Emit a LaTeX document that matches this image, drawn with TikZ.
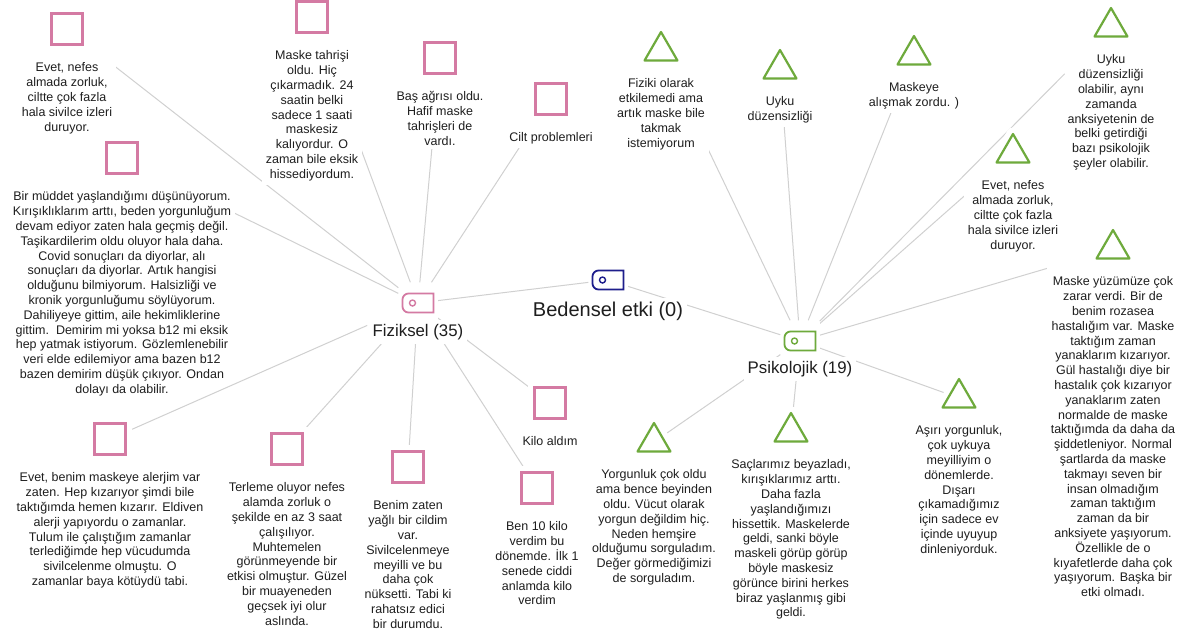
\documentclass[tikz,border=0pt]{standalone}
\usepackage{fontspec}
\setmainfont{Liberation Sans}
\usepackage{xcolor}
\usepackage{tikz}
\usetikzlibrary{positioning,shapes.geometric}
\pgfdeclarelayer{wires}
\pgfdeclarelayer{icons}
\pgfsetlayers{wires,main,icons}
\definecolor{rose}{HTML}{D47AA3}
\definecolor{leaf}{HTML}{6EAA3C}
\definecolor{navy}{HTML}{1E1E8C}
\definecolor{wire}{HTML}{D0D0D0}
\definecolor{ink}{HTML}{1E1E1E}
\newcommand{\notefont}{\fontsize{12.5pt}{14.8pt}\selectfont}
\newcommand{\hubfont}{\fontsize{16.8pt}{20pt}\selectfont}
\newcommand{\topgap}{\rule{0pt}{34pt}}
\newcommand{\tagicon}[2]{%
  \draw[#2,line width=1.8pt] (#1.center) ++(0,9.5) [rounded corners=6pt] -- ++(-15.5,0) -- ++(0,-19) -- ++(15.5,0) [sharp corners] -- ++(15.5,0) -- ++(0,19) -- cycle;
  \draw[#2,line width=1.4pt] (#1.center) ++(-5.5,0) circle (3pt);}

\begin{document}
\begin{tikzpicture}[x=1pt,y=-1pt,
  node distance=-12pt,
  square/.style={draw=rose,line width=2.2pt,minimum size=31pt,inner sep=0pt,fill=white,preaction={draw=white,line width=13pt}},
  tri/.style={regular polygon,regular polygon sides=3,draw=leaf,line width=2.2pt,line join=round,minimum size=38pt,inner sep=0pt,fill=white,preaction={draw=white,line width=13pt,line join=round}},
  note/.style={align=center,fill=white,inner sep=4pt,text=ink,font=\notefont},
  tagbox/.style={minimum width=39pt,minimum height=41pt,inner sep=0pt,fill=white},
  hublabel/.style={fill=white,inner sep=4pt,text=ink,font=\hubfont},
  conn/.style={draw=wire,line width=1pt}
]
\useasboundingbox (0,0) rectangle (1189,633);

% hubs
\node[tagbox] (bed) at (608,280) {};
\tagicon{bed}{navy}
\node[hublabel,font=\fontsize{20pt}{24pt}\selectfont,below=-3pt of bed] (bed-t) {Bedensel etki (0)};
\node[tagbox] (fiz) at (418,303) {};
\tagicon{fiz}{rose}
\node[hublabel,below=-4pt of fiz] (fiz-t) {Fiziksel (35)};
\node[tagbox] (psi) at (800,341) {};
\tagicon{psi}{leaf}
\node[hublabel,below=-5pt of psi] (psi-t) {Psikolojik (19)};

% icons
\begin{pgfonlayer}{icons}
\node[square] (nefes) at (67,29) {};
\node[square] (tahris) at (312,17) {};
\node[square] (basagri) at (440,58) {};
\node[square] (cilt) at (551,99) {};
\node[square] (muddet) at (122,158) {};
\node[square] (alerji) at (110,439) {};
\node[square] (terleme) at (287,449) {};
\node[square] (yagli) at (408,467) {};
\node[square] (kiloal) at (550,403) {};
\node[square] (kiloverdi) at (537,488) {};
\node[tri] (fiziki) at (661,51) {};
\node[tri] (uyku) at (780,69) {};
\node[tri] (alisma) at (914,55) {};
\node[tri] (anksiyete) at (1111,27) {};
\node[tri] (solunum) at (1013,153) {};
\node[tri] (rozasea) at (1113,249) {};
\node[tri] (yorgun) at (654,442) {};
\node[tri] (saclar) at (791,432) {};
\node[tri] (asiri) at (959,398) {};
\end{pgfonlayer}

% Fiziksel
\node[note,below=of nefes] (nefes-t) {\topgap Evet, nefes\\almada zorluk,\\ciltte çok fazla\\hala sivilce izleri\\duruyor.};
\node[note,below=of tahris] (tahris-t) {\topgap Maske tahrişi\\oldu. Hiç\\çıkarmadık. 24\\saatin belki\\sadece 1 saati\\maskesiz\\kalıyordur. O\\zaman bile eksik\\hissediyordum.};
\node[note,below=of basagri] (basagri-t) {\topgap Baş ağrısı oldu.\\Hafif maske\\tahrişleri de\\vardı.};
\node[note,below=of cilt] (cilt-t) {\topgap Cilt problemleri};
\node[note,below=of muddet] (muddet-t) {\topgap Bir müddet yaşlandığımı düşünüyorum.\\Kırışıklıklarım arttı, beden yorgunluğum\\devam ediyor zaten hala geçmiş değil.\\Taşikardilerim oldu oluyor hala daha.\\Covid sonuçları da diyorlar, alı\\sonuçları da diyorlar. Artık hangisi\\olduğunu bilmiyorum. Halsizliği ve\\kronik yorgunluğumu söylüyorum.\\Dahiliyeye gittim, aile hekimliklerine\\gittim.\ \ Demirim mi yoksa b12 mi eksik\\hep yatmak istiyorum. Gözlemlenebilir\\veri elde edilemiyor ama bazen b12\\bazen demirim düşük çıkıyor. Ondan\\dolayı da olabilir.};
\node[note,below=of alerji] (alerji-t) {\topgap Evet, benim maskeye alerjim var\\zaten. Hep kızarıyor şimdi bile\\taktığımda hemen kızarır. Eldiven\\alerji yapıyordu o zamanlar.\\Tulum ile çalıştığım zamanlar\\terlediğimde hep vücudumda\\sivilcelenme olmuştu. O\\zamanlar baya kötüydü tabi.};
\node[note,below=of terleme] (terleme-t) {\topgap Terleme oluyor nefes\\alamda zorluk o\\şekilde en az 3 saat\\çalışılıyor.\\Muhtemelen\\görünmeyende bir\\etkisi olmuştur. Güzel\\bir muayeneden\\geçsek iyi olur\\aslında.};
\node[note,below=of yagli] (yagli-t) {\topgap Benim zaten\\yağlı bir cildim\\var.\\Sivilcelenmeye\\meyilli ve bu\\daha çok\\nüksetti. Tabi ki\\rahatsız edici\\bir durumdu.};
\node[note,below=of kiloal] (kiloal-t) {\topgap Kilo aldım};
\node[note,below=of kiloverdi] (kiloverdi-t) {\topgap Ben 10 kilo\\verdim bu\\dönemde. İlk 1\\senede ciddi\\anlamda kilo\\verdim};

% Psikolojik
\node[note,below=of fiziki] (fiziki-t) {\topgap Fiziki olarak\\etkilemedi ama\\artık maske bile\\takmak\\istemiyorum};
\node[note,below=of uyku] (uyku-t) {\topgap Uyku\\düzensizliği};
\node[note,below=of alisma] (alisma-t) {\topgap Maskeye\\alışmak zordu. )};
\node[note,below=of anksiyete] (anksiyete-t) {\topgap Uyku\\düzensizliği\\olabilir, aynı\\zamanda\\anksiyetenin de\\belki getirdiği\\bazı psikolojik\\şeyler olabilir.};
\node[note,below=of solunum] (solunum-t) {\topgap Evet, nefes\\almada zorluk,\\ciltte çok fazla\\hala sivilce izleri\\duruyor.};
\node[note,below=of rozasea] (rozasea-t) {\topgap Maske yüzümüze çok\\zarar verdi. Bir de\\benim rozasea\\hastalığım var. Maske\\taktığım zaman\\yanaklarım kızarıyor.\\Gül hastalığı diye bir\\hastalık çok kızarıyor\\yanaklarım zaten\\normalde de maske\\taktığımda da daha da\\şiddetleniyor. Normal\\şartlarda da maske\\takmayı seven bir\\insan olmadığım\\zaman taktığım\\zaman da bir\\anksiyete yaşıyorum.\\Özellikle de o\\kıyafetlerde daha çok\\yaşıyorum. Başka bir\\etki olmadı.};
\node[note,below=of yorgun] (yorgun-t) {\topgap Yorgunluk çok oldu\\ama bence beyinden\\oldu. Vücut olarak\\yorgun değildim hiç.\\Neden hemşire\\olduğumu sorguladım.\\Değer görmediğimizi\\de sorguladım.};
\node[note,below=of saclar] (saclar-t) {\topgap Saçlarımız beyazladı,\\kırışıklarımız arttı.\\Daha fazla\\yaşlandığımızı\\hissettik. Maskelerde\\geldi, sanki böyle\\maskeli görüp görüp\\böyle maskesiz\\görünce birini herkes\\biraz yaşlanmış gibi\\geldi.};
\node[note,below=of asiri] (asiri-t) {\topgap Aşırı yorgunluk,\\çok uykuya\\meyilliyim o\\dönemlerde.\\Dışarı\\çıkamadığımız\\için sadece ev\\içinde uyuyup\\dinleniyorduk.};

% connectors
\begin{pgfonlayer}{wires}
\draw[conn] (bed) -- (fiz);
\draw[conn] (bed) -- (psi);
\draw[conn] (fiz) -- (nefes);
\draw[conn] (fiz) -- (tahris);
\draw[conn] (fiz) -- (basagri);
\draw[conn] (fiz) -- (cilt);
\draw[conn] (fiz) -- (muddet);
\draw[conn] (fiz) -- (terleme);
\draw[conn] (fiz) -- (yagli);
\draw[conn] (fiz) -- (kiloal);
\draw[conn] (fiz) -- (kiloverdi);
\draw[conn] (psi) -- (fiziki);
\draw[conn] (psi) -- (uyku);
\draw[conn] (psi) -- (alisma);
\draw[conn] (psi) -- (solunum);
\draw[conn] (psi) -- (rozasea);
\draw[conn] (psi) -- (yorgun);
\draw[conn] (psi) -- (saclar);
\draw[conn] (psi) -- (asiri);
\end{pgfonlayer}
% these two pass over another note, so they are cut by hand
\draw[conn,shorten <=34pt,shorten >=6pt] (fiz) -- (alerji);
\draw[conn,shorten >=51pt] (psi) -- (anksiyete);
\end{tikzpicture}
\end{document}
